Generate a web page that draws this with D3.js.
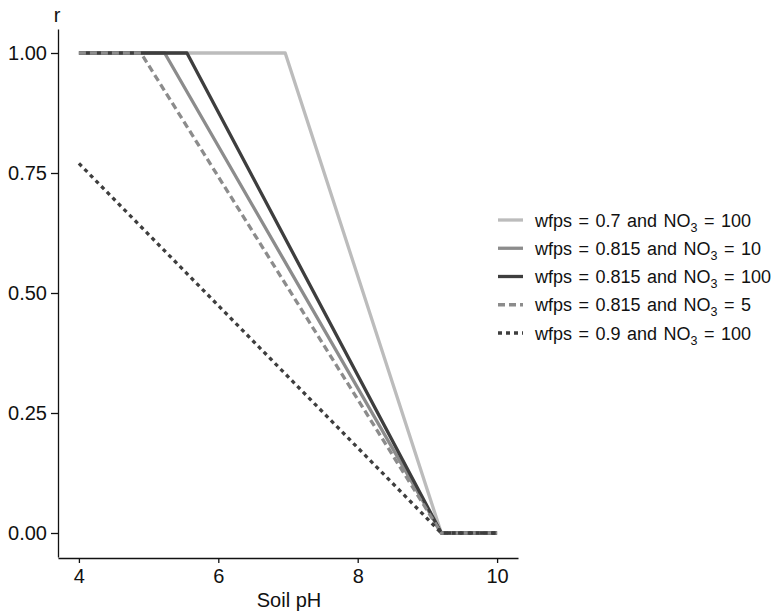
<!DOCTYPE html>
<html><head><meta charset="utf-8">
<script src="https://cdn.jsdelivr.net/npm/d3@7"></script>
<style>body{margin:0;background:#fff}svg{display:block}text{font-family:"Liberation Sans",Arial,Helvetica,sans-serif;fill:#111}</style>
</head><body><svg id="c" width="773" height="614"></svg>
<script>
const seriesNames = ["0.7|100","0.815|10","0.815|100","0.815|5","0.9|100"];
const wfps = ["0.7","0.815","0.815","0.815","0.9"];
const no3 = ["100","10","100","5","100"];
const phPoints = [
  [4, 6.96, 9.2, 10],
  [4, 5.23, 9.2, 10],
  [4, 5.55, 9.2, 10],
  [4, 4.89, 9.2, 10],
  [4, 9.2, 10]
];
const rValues = [
  [1, 1, 0, 0],
  [1, 1, 0, 0],
  [1, 1, 0, 0],
  [1, 1, 0, 0],
  [0.77, 0, 0]
];
const xTicks = [4, 6, 8, 10];
const yTicks = [0, 0.25, 0.5, 0.75, 1];
const colors = ["#bcbcbc", "#8c8c8c", "#3e3e3e", "#8c8c8c", "#3e3e3e"];
const dashes = [null, null, null, "7,4", "4,4"];

const svg = d3.select("#c");
const x = d3.scaleLinear().domain([3.7, 10.3]).range([58, 518]);
const y = d3.scaleLinear().domain([-0.05, 1.05]).range([557, 29]);

const xa = svg.append("g").attr("transform", "translate(0,558)")
  .call(d3.axisBottom(x).tickValues(xTicks).tickFormat(d3.format("d")).tickSize(5).tickPadding(6).tickSizeOuter(0));
const ya = svg.append("g").attr("transform", "translate(58,0)")
  .call(d3.axisLeft(y).tickValues(yTicks).tickFormat(d3.format(".2f")).tickSize(7).tickPadding(4).tickSizeOuter(0));
[xa, ya].forEach(g => {
  g.selectAll("path.domain").attr("stroke", "#111").attr("stroke-width", 1.3);
  g.selectAll(".tick line").attr("stroke", "#111").attr("stroke-width", 1.3);
  g.selectAll(".tick text").attr("font-size", 20).attr("fill", "#111").style("font-family", "Liberation Sans, Arial, sans-serif");
});

const line = d3.line().x(d => x(d[0])).y(d => y(d[1]));
phPoints.forEach((ph, i) => {
  const pts = ph.map((p, j) => [p, rValues[i][j]]);
  svg.append("path").datum(pts).attr("d", line)
    .attr("fill", "none").attr("stroke", colors[i]).attr("stroke-width", 3.3)
    .attr("stroke-linejoin", "round")
    .attr("stroke-dasharray", dashes[i]);
});

svg.append("text").attr("x", 57).attr("y", 22).attr("text-anchor", "middle").attr("font-size", 20).text("r");
svg.append("text").attr("x", 289).attr("y", 607).attr("text-anchor", "middle").attr("font-size", 20).text("Soil pH");

const legY = d3.scalePoint().domain(seriesNames).range([220, 333]);
seriesNames.forEach((s, i) => {
  const yy = legY(s);
  svg.append("line").attr("x1", 498).attr("x2", 523).attr("y1", yy).attr("y2", yy)
    .attr("stroke", colors[i]).attr("stroke-width", 3.3).attr("stroke-dasharray", dashes[i]);
  const t = svg.append("text").attr("x", 535).attr("y", yy + 6.5).attr("font-size", 18)
    .attr("word-spacing", 1.5);
  t.append("tspan").text(`wfps = ${wfps[i]} and NO`);
  t.append("tspan").attr("dy", 5).attr("font-size", 12.5).text("3");
  t.append("tspan").attr("dy", -5).text(` = ${no3[i]}`);
});
</script></body></html>
